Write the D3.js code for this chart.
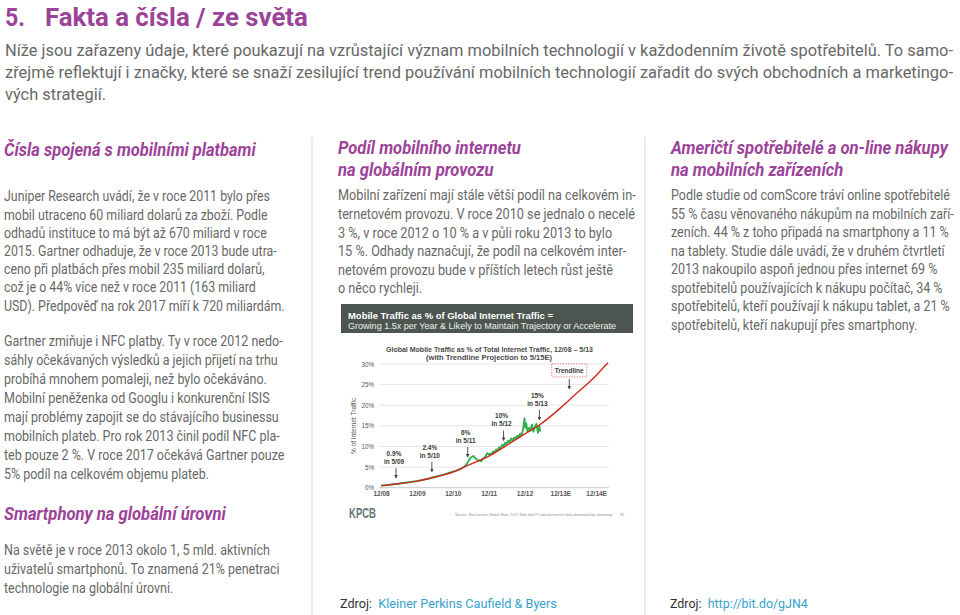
<!DOCTYPE html>
<html>
<head>
<meta charset="utf-8">
<script src="https://cdn.jsdelivr.net/npm/d3@7"></script>
<style>
  html, body { margin: 0; padding: 0; background: #fff; }
  svg { display: block; }
</style>
</head>
<body>
<div id="page"></div>
<script>
// ---- text content ----
const introLines = [
  "Níže jsou zařazeny údaje, které poukazují na vzrůstající význam mobilních technologií v každodenním životě spotřebitelů. To samo-",
  "zřejmě reflektují i značky, které se snaží zesilující trend používání mobilních technologií zařadit do svých obchodních a marketingo-",
  "vých strategií."
];
const col1Head = ["Čísla spojená s mobilními platbami"];
const col1Para1 = [
  "Juniper Research uvádí, že v roce 2011 bylo přes",
  "mobil utraceno 60 miliard dolarů za zboží. Podle",
  "odhadů instituce to má být až 670 miliard v roce",
  "2015. Gartner odhaduje, že v roce 2013 bude utra-",
  "ceno při platbách přes mobil 235 miliard dolarů,",
  "což je o 44% více než v roce 2011 (163 miliard",
  "USD). Předpověď na rok 2017 míří k 720 miliardám."
];
const col1Para2 = [
  "Gartner zmiňuje i NFC platby. Ty v roce 2012 nedo-",
  "sáhly očekávaných výsledků a jejich přijetí na trhu",
  "probíhá mnohem pomaleji, než bylo očekáváno.",
  "Mobilní peněženka od Googlu i konkurenční ISIS",
  "mají problémy zapojit se do stávajícího businessu",
  "mobilních plateb. Pro rok 2013 činil podíl NFC pla-",
  "teb pouze 2 %. V roce 2017 očekává Gartner pouze",
  "5% podíl na celkovém objemu plateb."
];
const col1Head2 = ["Smartphony na globální úrovni"];
const col1Para3 = [
  "Na světě je v roce 2013 okolo 1, 5 mld. aktivních",
  "uživatelů smartphonů. To znamená 21% penetraci",
  "technologie na globální úrovni."
];
const col2Head = ["Podíl mobilního internetu", "na globálním provozu"];
const col2Para = [
  "Mobilní zařízení mají stále větší podíl na celkovém in-",
  "ternetovém provozu. V roce 2010 se jednalo o necelé",
  "3 %, v roce 2012 o 10 % a v půli roku 2013 to bylo",
  "15 %. Odhady naznačují, že podíl na celkovém inter-",
  "netovém provozu bude v příštích letech růst ještě",
  "o něco rychleji."
];
const col3Head = ["Američtí spotřebitelé a on-line nákupy", "na mobilních zařízeních"];
const col3Para = [
  "Podle studie od comScore tráví online spotřebitelé",
  "55 % času věnovaného nákupům na mobilních zaří-",
  "zeních. 44 % z toho připadá na smartphony a 11 %",
  "na tablety. Studie dále uvádí, že v druhém čtvrtletí",
  "2013 nakoupilo aspoň jednou přes internet 69 %",
  "spotřebitelů používajících k nákupu počítač, 34 %",
  "spotřebitelů, kteří používají k nákupu tablet, a 21 %",
  "spotřebitelů, kteří nakupují přes smartphony."
];
const sources = [
  {label: "Zdroj:", link: "Kleiner Perkins Caufield & Byers"},
  {label: "Zdroj:", link: "http://bit.do/gJN4"}
];

// ---- chart data (months since 12/08, % of internet traffic) ----
const bannerLines = [
  "Mobile Traffic as % of Global Internet Traffic =",
  "Growing 1.5x per Year & Likely to Maintain Trajectory or Accelerate"
];
const chartTitle = [
  "Global Mobile Traffic as % of Total Internet Traffic, 12/08 – 5/13",
  "(with Trendline Projection to 5/15E)"
];
const xTickMonths = [0, 12, 24, 36, 48, 60, 72];
const xTickLabels = ["12/08", "12/09", "12/10", "12/11", "12/12", "12/13E", "12/14E"];
const yTicks = [0, 5, 10, 15, 20, 25, 30];

const trafficMonths = [0, 2, 4, 6, 8, 10, 12, 14, 16, 18, 20, 22, 24, 25, 26, 27, 28, 28.5, 29, 29.5,
  30, 30.5, 31, 31.5, 32, 32.5, 33, 33.5, 34, 34.5, 35, 35.5, 36, 36.5, 37, 37.5, 38, 38.5, 39, 39.5,
  40, 40.5, 41, 41.5, 42, 42.5, 43, 43.5, 44, 44.5, 45, 45.5, 46, 46.5, 47, 47.5, 48, 48.3, 48.6, 49,
  49.5, 50, 50.5, 51, 51.5, 52, 52.5, 53, 53.3];
const trafficValues = [0.5, 0.6, 0.8, 1.0, 1.2, 1.4, 1.6, 1.9, 2.2, 2.6, 3.0, 3.4, 3.9, 4.0, 4.4, 4.7, 5.2, 5.6, 6.1, 6.8,
  7.3, 7.5, 7.7, 7.2, 6.9, 6.5, 6.7, 6.4, 7.0, 7.3, 7.6, 8.4, 8.0, 8.3, 8.1, 8.8, 8.5, 9.3, 9.0, 9.8,
  9.5, 10.4, 10.1, 10.9, 10.5, 11.4, 11.0, 11.9, 11.4, 12.2, 11.8, 12.6, 12.2, 13.1, 12.7, 14.0, 16.8, 14.5, 15.6, 13.6,
  14.5, 13.9, 15.3, 13.6, 14.8, 15.5, 13.3, 15.0, 13.6];

const trendMonths = [0, 5, 12, 17, 24, 29, 36, 41, 48, 53, 60, 65, 72, 75, 76];
const trendValues = [0.5, 0.9, 1.6, 2.4, 3.8, 5.4, 7.6, 9.8, 13.0, 15.2, 19.3, 22.6, 27.2, 29.6, 30.3];

const notes = [
  {t: 5,  v: 0.9,  top: "0.9%", bottom: "in 5/09"},
  {t: 17, v: 2.4,  top: "2.4%", bottom: "in 5/10"},
  {t: 29, v: 6,    top: "6%",   bottom: "in 5/11"},
  {t: 41, v: 10,   top: "10%",  bottom: "in 5/12"},
  {t: 53, v: 15,   top: "15%",  bottom: "in 5/13"}
];
const trendNote = {t: 63, v: 22.5, label: "Trendline"};

// ---- page ----
const W = 960, H = 615;
const svg = d3.select('#page').append('svg')
  .attr('width', W).attr('height', H)
  .attr('viewBox', `0 0 ${W} ${H}`);
svg.append('rect').attr('width', W).attr('height', H).attr('fill', '#fff');

const purple = '#9c4399', grey = '#686868', bodyFont = 'Roboto, "Noto Sans", sans-serif';

// lines of text squeezed horizontally so that the first line has the given width
function textBlock(lines, o) {
  const g = svg.append('g');
  const t = g.selectAll('text').data(lines).join('text')
    .attr('x', 0)
    .attr('y', (d, i) => o.y + i * o.lh)
    .attr('font-family', o.font || bodyFont)
    .attr('font-size', o.size)
    .attr('font-weight', o.weight || 400)
    .attr('font-style', o.style || 'normal')
    .attr('fill', o.fill || grey)
    .text(d => d);
  const k = o.width / t.node().getComputedTextLength();
  g.attr('transform', `translate(${o.x},0) scale(${k},1)`);
  if (o.justify) {
    t.filter((d, i) => i < o.justify)
      .attr('textLength', o.width / k)
      .attr('lengthAdjust', 'spacing');
  }
  return g;
}

// heading
textBlock(["5."], {x: 5, y: 26, lh: 0, size: 25.5, weight: 700, fill: purple, width: 20});
textBlock(["Fakta a čísla / ze světa"], {x: 45, y: 26, lh: 0, size: 25.5, weight: 700, fill: purple, width: 263});
textBlock(introLines, {x: 5, y: 56.5, lh: 22, size: 16.3, width: 948, justify: 2});

// column dividers
svg.selectAll('line.divider').data([312, 645]).join('line')
  .attr('class', 'divider')
  .attr('x1', d => d).attr('x2', d => d)
  .attr('y1', 137).attr('y2', H)
  .attr('stroke', '#e6dbe6').attr('stroke-width', 1.2);

// column 1
textBlock(col1Head, {x: 4, y: 156, lh: 22, size: 17.5, weight: 700, style: 'italic', fill: purple, width: 252});
textBlock(col1Para1, {x: 4, y: 201.5, lh: 18.2, size: 14.3, width: 266});
textBlock(col1Para2, {x: 4, y: 346.5, lh: 18.9, size: 14.3, width: 279});
textBlock(col1Head2, {x: 4, y: 520, lh: 22, size: 17.5, weight: 700, style: 'italic', fill: purple, width: 222});
textBlock(col1Para3, {x: 4, y: 555.5, lh: 19, size: 14.3, width: 266});

// column 2
textBlock(col2Head, {x: 338, y: 154, lh: 22, size: 17.5, weight: 700, style: 'italic', fill: purple, width: 183});
textBlock(col2Para, {x: 338, y: 200.5, lh: 18.6, size: 14.3, width: 298});

// column 3
textBlock(col3Head, {x: 671, y: 154, lh: 22, size: 17.5, weight: 700, style: 'italic', fill: purple, width: 277});
textBlock(col3Para, {x: 671, y: 200.5, lh: 18.5, size: 14.3, width: 279});

// sources
[[340, 217], [670, 138]].forEach(([x, w], i) => {
  const g = svg.append('g');
  const t = g.append('text').attr('y', 608)
    .attr('font-family', bodyFont).attr('font-size', 13.5);
  t.append('tspan').attr('fill', '#333').text(sources[i].label + '\u00a0\u00a0');
  t.append('tspan').attr('fill', '#35a2cc').text(sources[i].link);
  const k = w / t.node().getComputedTextLength();
  g.attr('transform', `translate(${x},0) scale(${k},1)`);
});

// ---- embedded KPCB chart ----
const chartFont = '"Liberation Sans", Arial, sans-serif';
const chart = svg.append('g');

chart.append('rect')
  .attr('x', 341).attr('y', 304).attr('width', 292).attr('height', 29)
  .attr('fill', '#4d5550');

function fitText(g, str, x, y, w, size, attrs) {
  const t = g.append('text').attr('x', x).attr('y', y)
    .attr('font-family', chartFont).attr('font-size', size).text(str);
  Object.entries(attrs || {}).forEach(([k, v]) => t.attr(k, v));
  t.attr('textLength', w).attr('lengthAdjust', 'spacingAndGlyphs');
  return t;
}
fitText(chart, bannerLines[0], 348, 318.5, 205, 9, {fill: '#fff', 'font-weight': 700});
fitText(chart, bannerLines[1], 348, 329, 268, 9, {fill: '#eef0ee'});
fitText(chart, chartTitle[0], 386, 352.3, 207, 6.5, {fill: '#4a4a4a', 'font-weight': 700});
fitText(chart, chartTitle[1], 426, 359.6, 126, 6.5, {fill: '#4a4a4a', 'font-weight': 700});

const x = d3.scaleLinear().domain([-0.7, 76.3]).range([379, 609]);
const y = d3.scaleLinear().domain([0, 30]).range([487.7, 364]);

// grid
chart.append('g')
  .selectAll('line').data(yTicks).join('line')
  .attr('x1', x.range()[0]).attr('x2', x.range()[1])
  .attr('y1', d => y(d)).attr('y2', d => y(d))
  .attr('stroke', d => d === 0 ? '#bdbdbd' : '#e0e0e0')
  .attr('stroke-width', 0.8);

// y axis labels
const yAxis = d3.axisLeft(y).tickValues(yTicks).tickFormat(d => d + '%').tickSize(0).tickPadding(5);
chart.append('g').attr('transform', `translate(${x.range()[0]},0)`).call(yAxis)
  .call(g => g.select('.domain').remove())
  .call(g => g.selectAll('text').attr('font-family', chartFont).attr('font-size', 6.3).attr('fill', '#555'));

// x axis labels
const xAxis = d3.axisBottom(x).tickValues(xTickMonths).tickFormat((d, i) => xTickLabels[i]).tickSize(0).tickPadding(4);
chart.append('g').attr('transform', `translate(0,${y(0)})`).call(xAxis)
  .call(g => g.select('.domain').remove())
  .call(g => g.selectAll('text').attr('font-family', chartFont).attr('font-size', 6.5)
    .attr('font-weight', 700).attr('fill', '#555'));

chart.append('text')
  .attr('transform', `translate(355.5,${y(15)}) rotate(-90)`)
  .attr('text-anchor', 'middle')
  .attr('font-family', chartFont).attr('font-size', 6.5).attr('fill', '#555')
  .text('% of Internet Traffic');

// series
const traffic = trafficMonths.map((t, i) => [t, trafficValues[i]]);
const trend = trendMonths.map((t, i) => [t, trendValues[i]]);
const line = d3.line().x(d => x(d[0])).y(d => y(d[1]));

chart.append('path').datum(traffic)
  .attr('d', line)
  .attr('fill', 'none').attr('stroke', '#2fae4a').attr('stroke-width', 1.8)
  .attr('stroke-linejoin', 'round');
chart.append('path').datum(trend)
  .attr('d', line.curve(d3.curveMonotoneX))
  .attr('fill', 'none').attr('stroke', '#d1261d').attr('stroke-width', 1.4);

// annotations
svg.append('defs').append('marker')
  .attr('id', 'arrow').attr('viewBox', '0 0 6 6')
  .attr('refX', 5).attr('refY', 3).attr('markerWidth', 4).attr('markerHeight', 4)
  .attr('orient', 'auto')
  .append('path').attr('d', 'M0,0L6,3L0,6Z').attr('fill', '#444');

const ann = chart.append('g').selectAll('g').data(notes).join('g');
ann.append('line')
  .attr('x1', d => x(d.t)).attr('x2', d => x(d.t))
  .attr('y1', d => y(d.v) - 16).attr('y2', d => y(d.v) - 6)
  .attr('stroke', '#444').attr('stroke-width', 0.9)
  .attr('marker-end', 'url(#arrow)');
ann.append('text')
  .attr('x', d => x(d.t) - 2).attr('y', d => y(d.v) - 20)
  .attr('text-anchor', 'middle')
  .attr('font-family', chartFont).attr('font-size', 6.5).attr('font-weight', 700).attr('fill', '#3a3a3a')
  .text(d => d.bottom);
ann.append('text')
  .attr('x', d => x(d.t) - 2).attr('y', d => y(d.v) - 28)
  .attr('text-anchor', 'middle')
  .attr('font-family', chartFont).attr('font-size', 6.5).attr('font-weight', 700).attr('fill', '#3a3a3a')
  .text(d => d.top);

const tx = x(trendNote.t), tTip = y(trendNote.v) - 6;
chart.append('line')
  .attr('x1', tx).attr('x2', tx).attr('y1', tTip - 10).attr('y2', tTip)
  .attr('stroke', '#444').attr('stroke-width', 0.9).attr('marker-end', 'url(#arrow)');
chart.append('rect')
  .attr('x', tx - 17.5).attr('y', tTip - 25).attr('width', 35).attr('height', 13)
  .attr('fill', '#fff').attr('stroke', '#d9534f').attr('stroke-width', 0.7)
  .attr('stroke-dasharray', '1.5,1.2');
chart.append('text')
  .attr('x', tx).attr('y', tTip - 16)
  .attr('text-anchor', 'middle')
  .attr('font-family', chartFont).attr('font-size', 6.5).attr('font-weight', 700).attr('fill', '#3a3a3a')
  .text(trendNote.label);

// footer of the slide
fitText(chart, 'KPCB', 349, 518, 27, 15, {fill: '#66767c', 'font-weight': 700});
fitText(chart, 'Source: StatCounter Global Stats, 5/13. Note that PC-based Internet data dominated by streaming.',
  455, 515.5, 158, 3.6, {fill: '#8a8a8a'});
chart.append('text').attr('x', 620).attr('y', 515.5)
  .attr('font-family', chartFont).attr('font-size', 3.8).attr('fill', '#8a8a8a').text('32');
</script>
</body>
</html>
